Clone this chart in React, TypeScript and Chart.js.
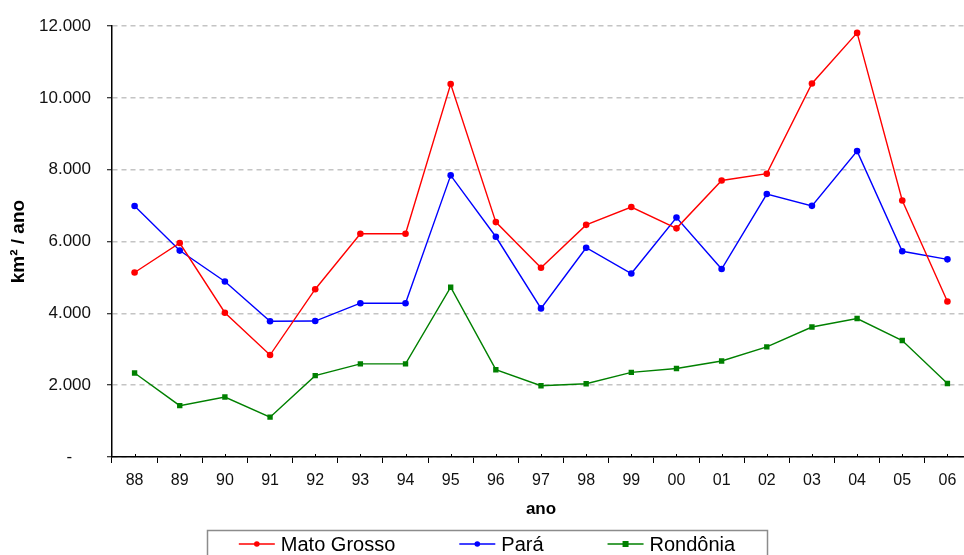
import { useEffect, useRef } from "react";
import { Chart, registerables } from "chart.js";

Chart.register(...registerables);

// Annual deforestation (km²/year) by state
const years = ["88", "89", "90", "91", "92", "93", "94", "95", "96", "97", "98", "99", "00", "01", "02", "03", "04", "05", "06"];
const matoGrosso = [5140, 5960, 4020, 2840, 4674, 6220, 6220, 10391, 6543, 5271, 6466, 6963, 6369, 7703, 7892, 10405, 11814, 7145, 4333];
const para = [6990, 5750, 4890, 3780, 3787, 4284, 4284, 7845, 6135, 4139, 5829, 5111, 6671, 5237, 7324, 6996, 8521, 5731, 5505];
const rondonia = [2340, 1430, 1670, 1110, 2265, 2595, 2595, 4730, 2432, 1986, 2041, 2358, 2465, 2673, 3067, 3620, 3858, 3244, 2049];
const yMin = 0;
const yMax = 12000;
const yStep = 2000;

const FONT = "'Liberation Sans', Arial, sans-serif";

// thousands with a dot; zero shown as a dash, padded like an accounting format
const fmtThousands = (v: number) =>
  v === 0 ? "-    " : String(v).replace(/\B(?=(\d{3})+(?!\d))/g, ".");

// small marks above the x axis at each category centre
const centerMarks = {
  id: "centerMarks",
  afterDatasetsDraw(chart: any) {
    const x = chart.scales.x;
    const ctx = chart.ctx;
    ctx.save();
    ctx.strokeStyle = "#000";
    ctx.lineWidth = 1;
    for (let i = 0; i < years.length; i++) {
      const px = Math.round(x.getPixelForValue(i)) + 0.5;
      ctx.beginPath();
      ctx.moveTo(px, x.top);
      ctx.lineTo(px, x.top - 3);
      ctx.stroke();
    }
    ctx.restore();
  },
};

// boxed legend with line + marker samples
const boxLegend = {
  id: "boxLegend",
  afterDraw(chart: any) {
    const ctx = chart.ctx;
    const boxL = 207, boxR = 767, boxT = 530, boxB = 562;
    const cy = 544;
    const lineLen = 36, gapTxt = 6, gapItem = 64;
    ctx.save();
    ctx.fillStyle = "#fff";
    ctx.fillRect(boxL, boxT, boxR - boxL, boxB - boxT);
    ctx.strokeStyle = "#8c8c8c";
    ctx.lineWidth = 1.5;
    ctx.strokeRect(boxL + 0.5, boxT + 0.5, boxR - boxL, boxB - boxT);
    ctx.font = `20px ${FONT}`;
    ctx.textBaseline = "middle";
    const items = chart.data.datasets.map((d: any) => ({
      label: d.label,
      color: d.borderColor,
      style: d.pointStyle,
      w: ctx.measureText(d.label).width,
    }));
    let total = 0;
    items.forEach((it: any, i: number) => {
      total += lineLen + gapTxt + it.w + (i < items.length - 1 ? gapItem : 0);
    });
    let x = (boxL + boxR) / 2 - total / 2;
    items.forEach((it: any) => {
      ctx.strokeStyle = it.color;
      ctx.fillStyle = it.color;
      ctx.lineWidth = 1.5;
      ctx.beginPath();
      ctx.moveTo(x, cy);
      ctx.lineTo(x + lineLen, cy);
      ctx.stroke();
      const mx = x + lineLen / 2;
      if (it.style === "rect") {
        ctx.fillRect(mx - 3, cy - 3, 6, 6);
      } else {
        ctx.beginPath();
        ctx.arc(mx, cy, 2.8, 0, Math.PI * 2);
        ctx.fill();
      }
      ctx.fillStyle = "#000";
      ctx.fillText(it.label, x + lineLen + gapTxt, cy + 1);
      x += lineLen + gapTxt + it.w + gapItem;
    });
    ctx.restore();
  },
};

export default function App() {
  const ref = useRef<HTMLCanvasElement | null>(null);

  useEffect(() => {
    if (!ref.current) return;
    const mk = (label: string, data: number[], color: string, style: string, r: number) => ({
      label,
      data,
      borderColor: color,
      backgroundColor: color,
      borderWidth: 1.4,
      pointStyle: style,
      pointRadius: r,
      pointBorderWidth: 0,
      pointBackgroundColor: color,
      tension: 0,
    });
    const chart = new Chart(ref.current, {
      type: "line",
      data: {
        labels: years,
        datasets: [
          mk("Mato Grosso", matoGrosso, "#ff0000", "circle", 3.3),
          mk("Pará", para, "#0000ff", "circle", 3.3),
          mk("Rondônia", rondonia, "#008000", "rect", 3.8),
        ],
      },
      options: {
        responsive: false,
        animation: false,
        layout: { padding: { top: 23, right: 10, bottom: 35, left: 0 } },
        plugins: {
          legend: { display: false },
          tooltip: { enabled: false },
        },
        scales: {
          x: {
            offset: true,
            afterFit: (s: any) => {
              s.height = 63;
            },
            grid: {
              drawOnChartArea: false,
              offset: true,
              tickLength: 6,
              tickColor: "#000",
              tickWidth: 1,
            },
            border: { color: "#000", width: 1.5 },
            ticks: {
              color: "#111",
              padding: 8,
              maxRotation: 0,
              autoSkip: false,
              font: { family: FONT, size: 16 },
            },
            title: {
              display: true,
              text: "ano",
              color: "#000",
              font: { family: FONT, size: 17, weight: "bold" },
              padding: { top: 0, bottom: 0 },
            },
          },
          y: {
            min: yMin,
            max: yMax,
            afterFit: (s: any) => {
              s.width = 112;
            },
            grid: {
              color: "#c4c4c4",
              lineWidth: 1.5,
              tickColor: "#000",
              tickWidth: 1,
              tickBorderDash: [],
              tickLength: 5,
            },
            border: { color: "#000", width: 1.5, dash: [5, 4] },
            ticks: {
              stepSize: yStep,
              color: "#111",
              padding: 16,
              font: { family: FONT, size: 17 },
              callback: (v: any) => fmtThousands(Number(v)),
            },
            title: {
              display: true,
              text: "km² / ano",
              color: "#000",
              font: { family: FONT, size: 19, weight: "bold" },
              padding: { top: 7, bottom: 0 },
            },
          },
        },
      } as any,
      plugins: [centerMarks, boxLegend],
    });
    return () => chart.destroy();
  }, []);

  return (
    <div
      style={{
        position: "fixed",
        left: 0,
        top: 0,
        width: 964,
        height: 555,
        overflow: "hidden",
        background: "#fff",
      }}
    >
      <canvas ref={ref} width={980} height={555} style={{ display: "block" }} />
    </div>
  );
}
